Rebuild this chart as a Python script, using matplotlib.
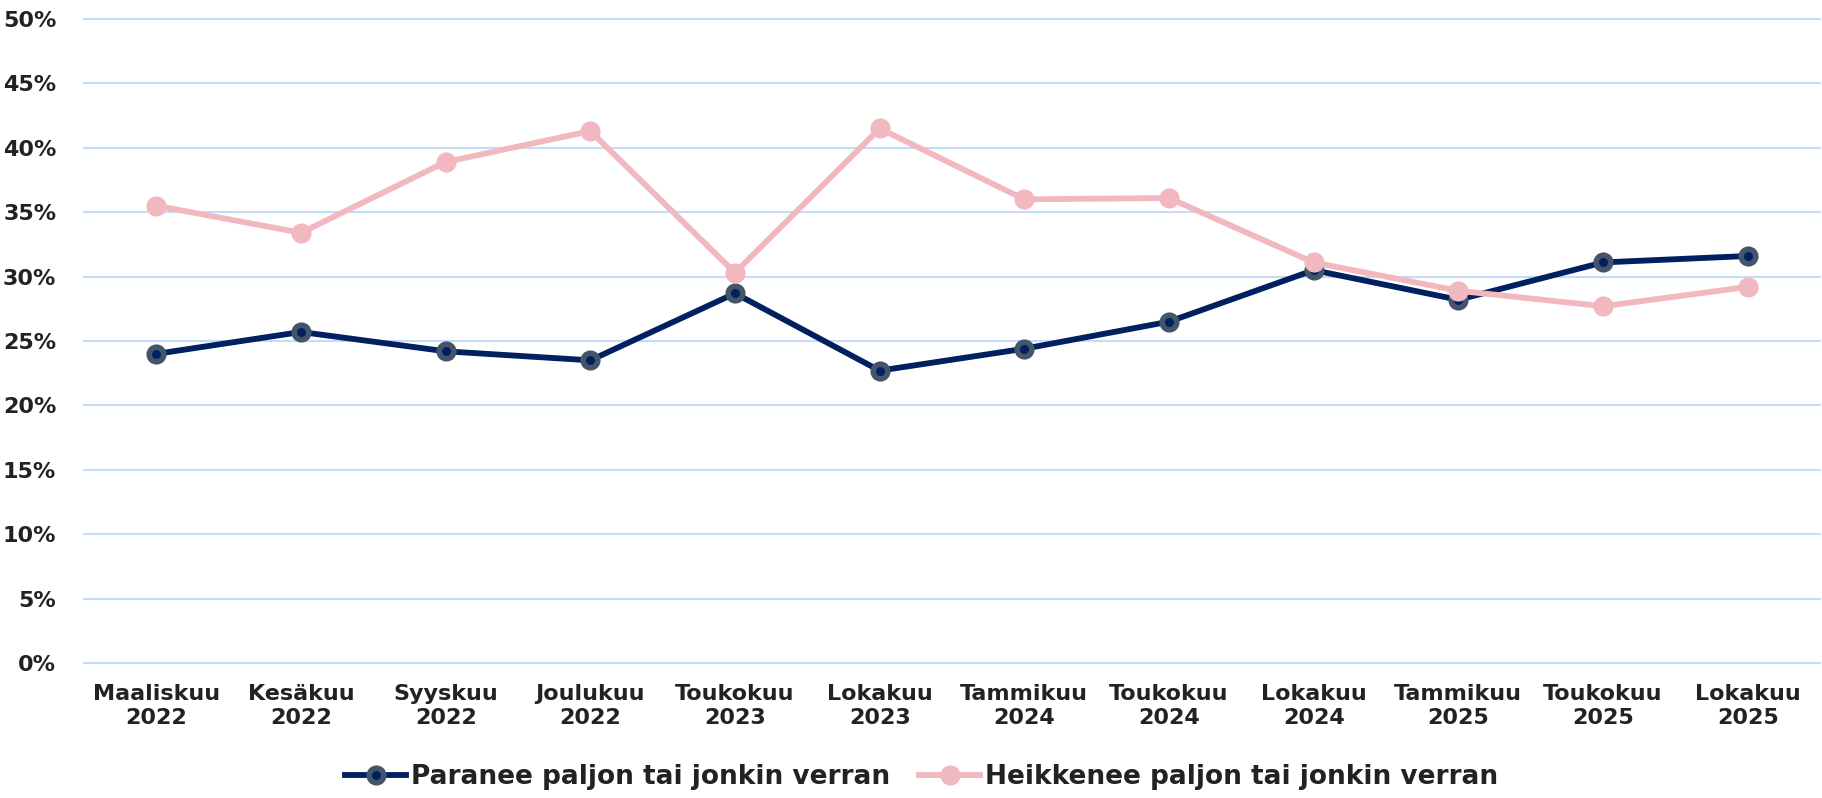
import matplotlib
matplotlib.use("Agg")
import matplotlib.pyplot as plt
from matplotlib.ticker import FuncFormatter, MultipleLocator

# Kyselykierrokset (x-akseli)
MONTHS = ["Maaliskuu", "Kesäkuu", "Syyskuu", "Joulukuu", "Toukokuu", "Lokakuu",
          "Tammikuu", "Toukokuu", "Lokakuu", "Tammikuu", "Toukokuu", "Lokakuu"]
YEARS = ["2022", "2022", "2022", "2022", "2023", "2023",
         "2024", "2024", "2024", "2025", "2025", "2025"]

# Osuudet (%), luettu kuvasta
PARANEE = [24.0, 25.7, 24.2, 23.5, 28.7, 22.7, 24.4, 26.5, 30.5, 28.2, 31.1, 31.6]
HEIKKENEE = [35.5, 33.4, 38.9, 41.3, 30.3, 41.5, 36.0, 36.1, 31.1, 28.9, 27.7, 29.2]

SERIES_LABELS = ["Paranee paljon tai jonkin verran", "Heikkenee paljon tai jonkin verran"]

NAVY = "#002060"
NAVY_EDGE = "#44546A"
PINK = "#F2B8BF"
GRID = "#C6DBF7"
TEXT = "#222222"

plt.rcParams["font.family"] = ["DejaVu Sans"]
plt.rcParams["font.weight"] = "bold"

fig = plt.figure(figsize=(18.22, 7.98), dpi=100)
ax = fig.add_axes([84 / 1822, 1 - 663 / 798, 1736 / 1822, 644 / 798])

x = list(range(len(MONTHS)))
ax.plot(x, PARANEE, color=NAVY, lw=4.2, marker="o", ms=10.5, mfc=NAVY, mec=NAVY_EDGE,
        mew=4.0, label=SERIES_LABELS[0], zorder=3)
ax.plot(x, HEIKKENEE, color=PINK, lw=4.2, marker="o", ms=14.5, mfc=PINK, mec=PINK,
        mew=0, label=SERIES_LABELS[1], zorder=4)

ax.set_xlim(-0.5, len(MONTHS) - 0.5)
ax.set_ylim(0, 50)
ax.yaxis.set_major_locator(MultipleLocator(5))
ax.yaxis.set_major_formatter(FuncFormatter(lambda v, _: f"{v:.0f}%"))
ax.set_xticks(x)
ax.set_xticklabels([f"{m}\n{y}" for m, y in zip(MONTHS, YEARS)], linespacing=1.25)

ax.grid(axis="y", color=GRID, lw=1.5, clip_on=False)
ax.set_axisbelow(True)
for sp in ax.spines.values():
    sp.set_visible(False)
ax.tick_params(axis="both", length=0, labelsize=16, labelcolor=TEXT)
ax.tick_params(axis="y", pad=20)
ax.tick_params(axis="x", pad=15)
for lab in ax.get_xticklabels() + ax.get_yticklabels():
    lab.set_fontweight("bold")

leg = fig.legend(loc="center", bbox_to_anchor=(0.506, 0.026), ncol=2, frameon=False,
                 fontsize=19, handlelength=2.3, handletextpad=0.2, columnspacing=1.1)
for t in leg.get_texts():
    t.set_color(TEXT)
    t.set_fontweight("bold")

fig.savefig("out.png", dpi=100)
